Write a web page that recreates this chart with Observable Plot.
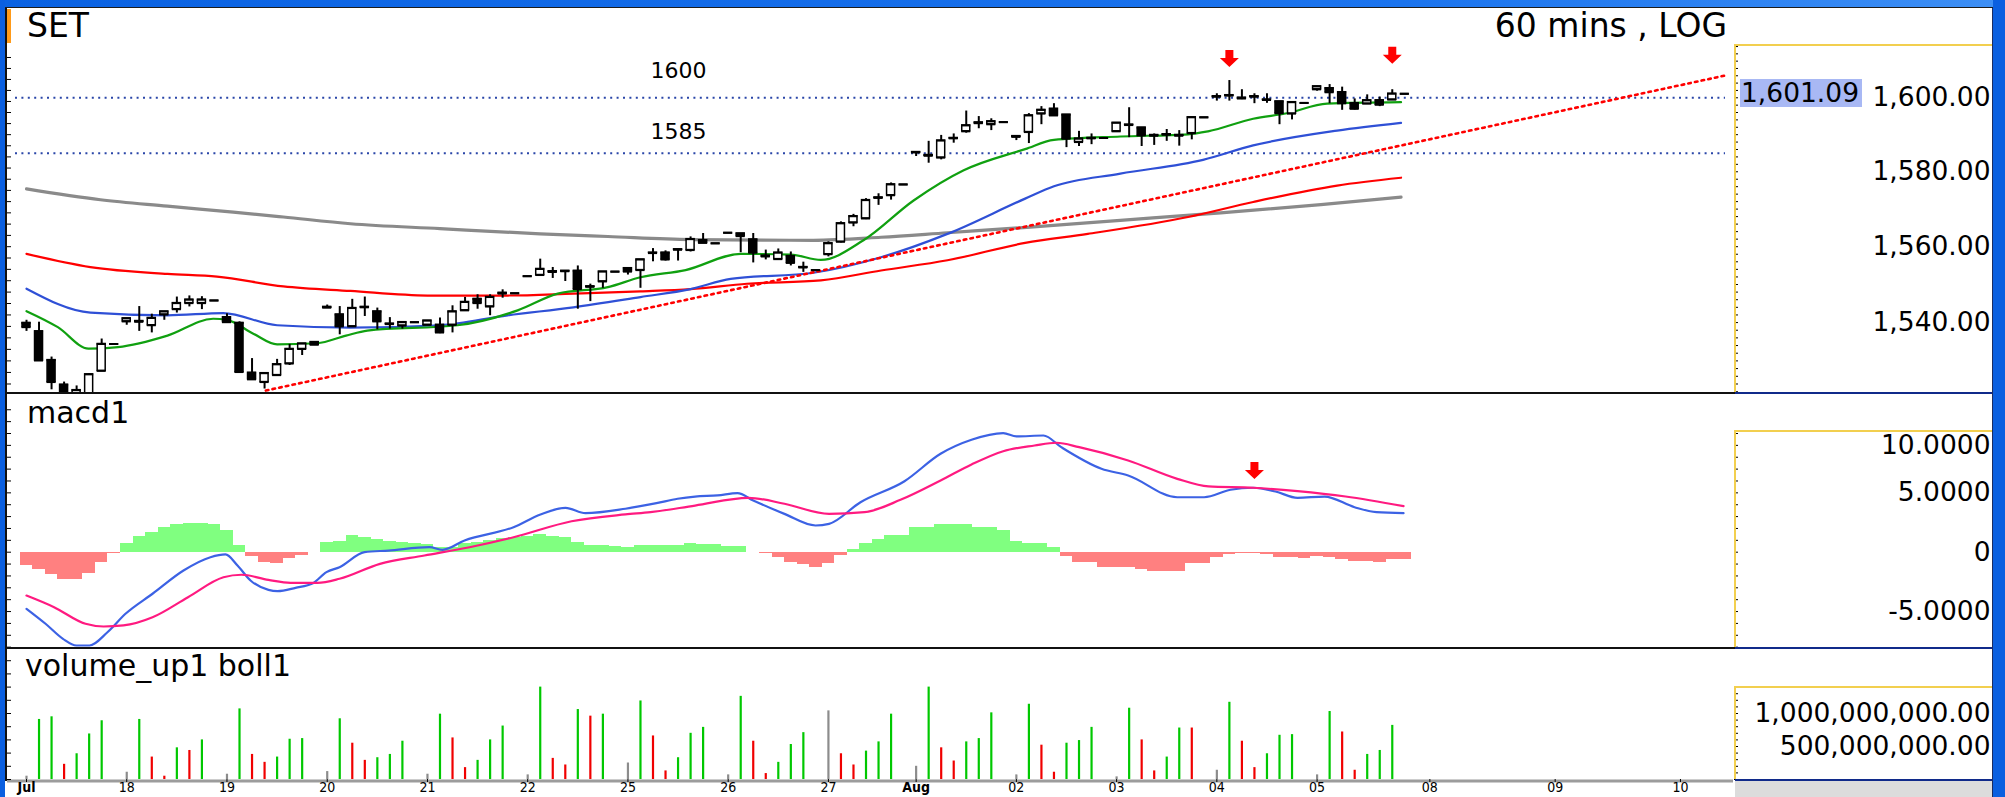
<!DOCTYPE html>
<html>
<head>
<meta charset="utf-8">
<script src="https://cdn.jsdelivr.net/npm/d3@7"></script>
<script src="https://cdn.jsdelivr.net/npm/@observablehq/plot@0.6"></script>
<style>
html,body{margin:0;padding:0;background:#fff;}
#frame{position:relative;width:2005px;height:797px;overflow:hidden;background:#fff;font-family:"DejaVu Sans",sans-serif;}
.a{position:absolute;}
.t{position:absolute;white-space:nowrap;line-height:1;color:#000;font-family:"DejaVu Sans",sans-serif;}
</style>
</head>
<body>
<div id="frame"></div>
<script>
// ---------------- DATA ----------------
// x positions are bar slots (8 hourly bars per trading day, Jul 27 has 7)
const dayLabels = ["Jul","18","19","20","21","22","25","26","27","Aug","02","03","04","05","08","09","10"];
const daySlots  = [0,8,16,24,32,40,48,56,64,71,79,87,95,103,112,122,132];
const monthLabels = ["Jul","Aug"];

const candleOpen = [
1539.9,1537.7,1530.2,1523.8,1521.5,1521.3,1527.4,1534.4,
1540.3,1540.4,1539.3,1542.1,1543.5,1545.1,1545.1,1545.8,
1541.4,1539.9,1526.9,1524.5,1526.3,1529.3,1533.1,1534.9,
1543.9,1542.1,1539.0,1544.1,1542.9,1539.7,1539.2,1540.1,
1539.4,1539.4,1539.4,1543.2,1546.2,1544.2,1547.6,1547.7,
1552.2,1552.5,1553.5,1553.6,1553.6,1549.4,1550.8,1553.4,
1554.3,1553.8,1558.3,1558.4,1559.2,1559.1,1561.7,1560.9,
1563.7,1563.5,1561.9,1557.6,1556.7,1557.5,1554.6,1553.8,
1558.0,1561.3,1566.4,1567.5,1573.0,1573.7,1576.6,
1585.2,1584.5,1583.8,1589.0,1590.9,1593.3,1592.8,1593.4,
1589.4,1590.7,1595.7,1597.0,1595.4,1588.0,1589.0,1589.1,
1590.9,1592.7,1591.9,1589.9,1590.1,1589.9,1590.4,1594.7,
1600.4,1600.7,1600.0,1600.4,1599.5,1599.0,1595.7,1598.6,
1602.3,1602.6,1601.5,1598.5,1598.4,1599.3,1599.5,1601.09];
const candleHigh = [
1540.6,1540.1,1531.0,1524.5,1523.5,1526.7,1535.7,1534.4,
1541.1,1544.2,1542.2,1542.9,1546.7,1547.0,1546.8,1545.8,
1542.3,1540.2,1530.6,1526.8,1530.4,1534.3,1534.5,1534.9,
1544.6,1544.2,1546.1,1546.7,1543.8,1541.3,1540.1,1540.1,
1540.5,1541.2,1544.4,1546.6,1547.3,1547.3,1548.6,1547.7,
1552.2,1556.7,1554.5,1553.6,1554.9,1550.1,1553.4,1553.4,
1554.3,1556.6,1559.5,1558.9,1559.3,1562.6,1563.5,1560.9,
1563.7,1563.5,1563.5,1559.1,1559.4,1558.6,1555.9,1553.8,
1561.3,1566.6,1568.6,1572.8,1574.1,1577.0,1576.6,
1585.3,1588.2,1589.8,1590.2,1596.4,1594.9,1594.3,1593.4,
1589.6,1595.7,1597.6,1598.4,1595.4,1590.9,1590.2,1589.1,
1593.2,1597.3,1591.9,1590.2,1591.4,1591.1,1594.7,1594.7,
1601.1,1604.7,1602.2,1601.1,1601.1,1599.0,1598.8,1598.6,
1603.1,1603.6,1602.9,1599.7,1600.8,1600.2,1602.2,1601.09];
const candleLow = [
1537.7,1529.9,1522.5,1520.5,1521.0,1521.0,1527.4,1534.4,
1539.3,1537.7,1537.3,1540.6,1542.5,1544.1,1543.4,1545.8,
1540.1,1527.0,1525.0,1522.7,1526.3,1528.8,1531.4,1534.2,
1543.9,1536.8,1539.0,1541.6,1538.1,1538.3,1538.3,1540.1,
1539.4,1537.1,1537.3,1543.2,1543.5,1541.8,1546.4,1547.7,
1552.2,1552.5,1551.6,1550.8,1543.5,1545.5,1549.0,1553.4,
1552.5,1549.0,1556.0,1556.2,1556.2,1558.6,1561.0,1560.9,
1563.7,1558.4,1555.7,1556.5,1556.7,1554.9,1553.2,1553.8,
1557.3,1561.0,1565.3,1567.2,1571.0,1572.4,1576.6,
1584.1,1582.3,1583.2,1587.7,1590.4,1591.6,1591.1,1593.4,
1588.4,1587.6,1592.7,1595.2,1586.5,1586.8,1587.3,1589.1,
1590.9,1589.2,1586.8,1587.1,1588.2,1586.9,1588.6,1594.7,
1599.1,1599.1,1599.5,1598.4,1598.5,1592.7,1594.0,1598.6,
1601.8,1598.4,1596.6,1596.7,1598.4,1597.6,1599.5,1601.09];
const candleClose = [
1538.8,1530.1,1524.5,1521.2,1522.4,1526.5,1534.4,1534.4,
1541.1,1540.2,1541.2,1542.9,1545.1,1546.0,1546.0,1545.8,
1540.1,1527.1,1525.2,1526.8,1529.1,1533.1,1534.5,1534.2,
1544.1,1539.0,1543.8,1544.0,1540.3,1539.6,1540.1,1540.1,
1540.5,1537.4,1542.9,1545.4,1545.1,1546.7,1547.8,1547.7,
1552.2,1554.1,1553.3,1553.5,1548.8,1549.5,1553.4,1553.4,
1553.4,1556.6,1558.4,1556.6,1559.3,1562.0,1561.0,1560.9,
1563.7,1562.8,1558.4,1557.4,1558.4,1555.7,1554.5,1553.8,
1560.9,1566.2,1568.1,1572.4,1573.1,1576.6,1576.6,
1585.3,1584.3,1588.4,1589.1,1592.5,1593.1,1593.6,1593.4,
1589.6,1595.2,1596.7,1595.2,1588.9,1588.9,1589.1,1589.1,
1593.2,1592.6,1589.8,1589.7,1590.0,1589.7,1594.7,1594.7,
1600.3,1600.6,1599.8,1600.3,1599.4,1595.8,1598.8,1598.6,
1603.1,1601.5,1598.5,1597.0,1599.3,1598.1,1601.1,1601.09];

// moving averages: [slot, value]
const maGreen = [[0,1543.0],[2.5,1538.8],[4.95,1533.2],[7.3,1533.6],[11.25,1536.6],[14.9,1541.0],[16,1540.7],[18.1,1537.1],[20,1534.3],[23.2,1534.6],[25.5,1536.6],[27.2,1537.9],[34.4,1539.3],[39.2,1543.2],[42.4,1547.6],[46.4,1549.3],[49,1551.9],[52.6,1553.8],[57,1558.1],[61,1557.9],[63.4,1556.5],[66.8,1561.7],[70.8,1572.3],[74.8,1580.4],[79.7,1586.1],[82,1588.6],[87.3,1589.5],[92.7,1590.1],[94.3,1590.9],[97.9,1594.3],[100.6,1595.8],[103.8,1598.4],[109.7,1598.8]];
const maBlue = [[0,1548.9],[5.1,1542.6],[11.25,1541.9],[15.7,1542.5],[20,1539.3],[25.86,1538.7],[33,1539.3],[38.4,1541.9],[43.65,1544.0],[49,1546.7],[53,1548.8],[56.2,1551.5],[62.8,1553.1],[68.2,1557.2],[73.5,1563.4],[79.7,1572.8],[82,1576.1],[87.3,1579.5],[93.9,1583.2],[97.9,1587.1],[104.6,1591.1],[109.7,1593.2]];
const maRed = [[0,1558.1],[5.1,1554.6],[11.25,1552.8],[15.2,1552.1],[20.5,1549.5],[25.86,1548.3],[32,1547.1],[38.4,1547.1],[43.65,1547.6],[49,1548.2],[53,1548.8],[57.5,1550.2],[63.4,1551.1],[68.2,1553.7],[73.5,1556.4],[79.7,1561.0],[84.7,1563.4],[92.7,1567.9],[97.9,1571.9],[104.6,1576.3],[109.7,1578.4]];
const maGray = [[0,1575.4],[5.9,1572.5],[11.25,1570.8],[16.5,1569.2],[20.5,1567.9],[25.86,1566.1],[33,1564.8],[41,1563.4],[46.4,1562.7],[53,1561.9],[62.8,1561.7],[68.2,1562.5],[73.5,1563.7],[80.1,1565.2],[87.3,1567.0],[95.3,1569.0],[103.3,1571.2],[109.7,1573.2]];

const trendSlots = [19.1, 135.6];
const trendValues = [1522.3, 1606.1];
const levelValues = [1600, 1585];
const levelLabels = ["1600", "1585"];
const priceArrowSlots = [96, 109];
const priceArrowValues = [1610.6, 1611.5];
const priceTicks = [1540, 1560, 1580, 1600];

// MACD
const macdLine = [[0,-4.77],[1.52,-6.03],[2.91,-7.3],[3.99,-7.86],[5.03,-7.86],[6.46,-6.74],[7.9,-5.19],[10.06,-3.5],[12.53,-1.54],[14.68,-0.42],[15.88,-0.19],[16.84,-1.12],[17.88,-2.38],[19.31,-3.17],[20.03,-3.28],[21.47,-3.0],[22.86,-2.61],[23.94,-1.68],[24.98,-1.26],[26.98,0],[28.89,0.14],[32.16,0.42],[33.2,0.2],[34.96,0.99],[38.87,2.11],[41.02,3.18],[43.02,3.74],[44.61,3.29],[47.8,3.66],[50.28,4.13],[51.96,4.5],[53.36,4.69],[55.15,4.78],[56.74,4.97],[58,4.36],[60.49,3.23],[62.97,2.25],[64.05,2.39],[66.56,4.21],[70.07,5.98],[72.95,8.29],[75.42,9.47],[77.95,10.03],[79.01,9.75],[81.16,9.83],[82.58,8.85],[85.79,7.03],[87.92,6.46],[91.84,4.63],[93.98,4.63],[96.09,5.26],[97.9,5.43],[99.68,5.11],[101.44,4.58],[103.59,4.69],[105.99,3.79],[107.74,3.37],[109.9,3.29]];
const signalLine = [[0,-3.65],[2.2,-4.63],[4.71,-6.03],[6.15,-6.26],[7.74,-6.17],[10.06,-5.48],[12.89,-3.79],[15.72,-2.11],[17.16,-1.9],[19.31,-2.33],[21.07,-2.58],[23.22,-2.58],[24.98,-2.24],[28.21,-0.98],[31.76,-0.28],[35.36,0.42],[38.87,1.26],[43.5,2.61],[47.8,3.18],[49.8,3.37],[53.36,3.93],[57.62,4.58],[60.49,4.08],[64.05,3.23],[66.88,3.37],[69.75,4.41],[72.95,6.04],[75.42,7.39],[77.95,8.51],[80.45,8.99],[82.2,9.22],[84.01,8.85],[87.92,7.73],[91.84,6.18],[94.33,5.54],[97.9,5.43],[101.44,5.14],[105.27,4.69],[109.9,3.88]];
const macdHist = [
-1.12,-1.46,-1.88,-2.33,-2.27,-1.82,-0.84,-0.14,
0.76,1.35,1.69,2.11,2.33,2.44,2.44,2.31,
1.83,0.56,-0.34,-0.84,-0.93,-0.56,-0.28,null,
0.79,0.93,1.41,1.27,1.07,0.93,0.82,0.71,
0.65,0.42,0.42,0.71,0.84,0.98,1.13,1.27,
1.35,1.49,1.35,1.27,0.79,0.56,0.56,0.51,
0.42,0.56,0.6,0.56,0.6,0.71,0.65,0.65,
0.51,0.51,null,-0.14,-0.42,-0.84,-1.04,-1.26,
-0.93,-0.28,0.2,0.76,1.07,1.41,1.41,
2.05,2.05,2.31,2.31,2.31,2.05,2.05,1.83,
0.93,0.76,0.76,0.42,-0.34,-0.84,-0.84,-1.32,
-1.32,-1.32,-1.48,-1.6,-1.6,-1.6,-0.98,-0.98,
-0.47,-0.19,-0.08,-0.08,-0.19,-0.47,-0.47,-0.5,
-0.34,-0.42,-0.6,-0.76,-0.76,-0.84,-0.62,-0.62];
const macdArrowSlots = [98];
const macdArrowValues = [6.84];
const macdTicks = [-5, 0, 5];
const macdTopTick = [10];

// Volume (millions), direction: n = neutral, g = up, r = down, - = none
const volumeMillions = [
50,910,950,230,390,690,890,null,
110,910,340,50,480,440,600,null,
80,1070,380,260,340,610,620,null,
120,920,550,290,330,380,580,null,
80,990,630,180,290,600,810,null,
70,1400,320,220,1060,960,990,null,
250,1190,660,130,330,700,790,null,
70,1260,580,90,260,530,710,null,
1040,390,220,430,570,990,null,
200,1400,480,280,570,620,1010,null,
70,1140,520,110,550,590,790,null,
40,1080,600,130,340,780,780,null,
140,1170,580,180,390,670,680,null,
70,1030,720,140,380,440,820,null];
const volumeDir = ("nggrggg-ngrrgrg-ngrrggg-ngrrggg-ngrrggg-ngrrgrg-ngrrggg-ngrrggg-" +
                   "nrrggg-ngrrggg-ngrrggg-ngrrggr-ngrrggg-ngrrggg-").split("");
const volumeTicks = [500e6, 1000e6];

// ---------------- BUILD ----------------
const frame = document.getElementById("frame");
const W = 2005, ML = 7, MR = 272;
const xDomain = [-1.5164, 136.233];
const FONT = "DejaVu Sans, sans-serif";
const NARROW = "Liberation Sans Narrow, DejaVu Sans Condensed, sans-serif";

const candles = candleOpen.map((o, i) => ({i, open: o, high: candleHigh[i], low: candleLow[i], close: candleClose[i]}));
const hist = macdHist.map((v, i) => ({i, v})).filter(d => d.v != null && d.v !== 0);
const vols = volumeMillions.map((v, i) => ({i, v: v == null ? null : v * 1e6, c: volumeDir[i]})).filter(d => d.v != null);
const volColor = {n: "#8c8c8c", g: "#00c800", r: "#f00000"};
const lastClose = candleClose[candleClose.length - 1];

const downArrow = {
  draw(ctx, size) {
    const s = Math.sqrt(size / Math.PI) / 8;
    ctx.moveTo(-4 * s, -9 * s);
    ctx.lineTo(4 * s, -9 * s);
    ctx.lineTo(4 * s, -1 * s);
    ctx.lineTo(9.5 * s, -1 * s);
    ctx.lineTo(0, 8 * s);
    ctx.lineTo(-9.5 * s, -1 * s);
    ctx.lineTo(-4 * s, -1 * s);
    ctx.closePath();
  }
};

const baseStyle = {background: "transparent", fontFamily: FONT, fontSize: "26px", color: "#000", overflow: "visible"};
const rightLabelOpts = {anchor: "right", tickSize: 0, tickPadding: 0, textAnchor: "end", dx: 257, fontSize: 26.5, fontFamily: FONT, label: null, fill: "#000"};
const PW = W - ML - MR;

// Price panel
const pricePlot = Plot.plot({
  width: W, height: 393, marginLeft: ML, marginRight: MR, marginTop: 45, marginBottom: 0,
  x: {domain: xDomain, axis: null},
  y: {type: "log", domain: [1521.54, 1614.29], axis: null},
  color: {type: "identity"},
  style: baseStyle,
  marks: [
    Plot.ruleY(levelValues, {y: d => d, stroke: "#2a46a8", strokeWidth: 2, strokeDasharray: "2 4.4", insetLeft: 8, insetRight: 8}),
    Plot.text([levelValues[0]], {y: d => d, text: () => levelLabels[0], frameAnchor: "left", dx: 643, dy: -27, textAnchor: "start", fontSize: 22, fontFamily: FONT, fill: "#000"}),
    Plot.text([levelValues[1]], {y: d => d, text: () => levelLabels[1], frameAnchor: "left", dx: 643, dy: -21, textAnchor: "start", fontSize: 22, fontFamily: FONT, fill: "#000"}),
    Plot.line(maGray, {x: d => d[0], y: d => d[1], stroke: "#8a8a8a", strokeWidth: 3.2, curve: "monotone-x", clip: true}),
    Plot.line(maRed, {x: d => d[0], y: d => d[1], stroke: "#ff0000", strokeWidth: 2.2, curve: "monotone-x", clip: true}),
    Plot.line(maBlue, {x: d => d[0], y: d => d[1], stroke: "#2f50d6", strokeWidth: 2.2, curve: "monotone-x", clip: true}),
    Plot.line(maGreen, {x: d => d[0], y: d => d[1], stroke: "#10a010", strokeWidth: 2.2, curve: "monotone-x", clip: true}),
    Plot.line(trendSlots.map((s, k) => [s, trendValues[k]]), {x: d => d[0], y: d => d[1], stroke: "#ff0000", strokeWidth: 2.6, strokeDasharray: "2.6 4.2", clip: true}),
    Plot.ruleX(candles, {x: "i", y1: "low", y2: "high", stroke: "#000", strokeWidth: 2, clip: true}),
    Plot.rect(candles, {x1: d => d.i - 0.32, x2: d => d.i + 0.32, y1: "open", y2: "close",
      fill: d => d.close > d.open ? "#ffffff" : "#000000", stroke: "#000", strokeWidth: 1.5, clip: true}),
    Plot.ruleY(candles, {y: "open", x1: d => d.i - 0.36, x2: d => d.i + 0.36, stroke: "#000", strokeWidth: 2, clip: true}),
    Plot.ruleY(candles, {y: "close", x1: d => d.i - 0.36, x2: d => d.i + 0.36, stroke: "#000", strokeWidth: 2, clip: true}),
    Plot.dot(priceArrowSlots.map((s, k) => [s, priceArrowValues[k]]), {x: d => d[0], y: d => d[1], symbol: downArrow, r: 8, fill: "#ff0000", stroke: null}),
    Plot.axisY({...rightLabelOpts, ticks: priceTicks, tickFormat: d3.format(",.2f")}),
    Plot.axisY({anchor: "right", ticks: d3.range(1522, 1615, 2), tickSize: 4, tickFormat: () => "", label: null}),
    Plot.tickY(d3.range(1524, 1614, 3), {y: d => d, insetRight: PW - 4, stroke: "#000"})
  ]
});

// MACD panel
const macdPlot = Plot.plot({
  width: W, height: 255, marginLeft: ML, marginRight: MR, marginTop: 0, marginBottom: 0,
  x: {domain: xDomain, axis: null},
  y: {domain: [-8.113, 13.370], axis: null},
  color: {type: "identity"},
  style: baseStyle,
  marks: [
    Plot.rect(hist, {x1: d => d.i - 0.5, x2: d => d.i + 0.5, y1: () => 0, y2: "v",
      fill: d => d.v > 0 ? "#80ff80" : "#ff8080", shapeRendering: "crispEdges"}),
    Plot.line(macdLine, {x: d => d[0], y: d => d[1], stroke: "#3c62e4", strokeWidth: 2.2, curve: "monotone-x"}),
    Plot.line(signalLine, {x: d => d[0], y: d => d[1], stroke: "#ff1a80", strokeWidth: 2.2, curve: "monotone-x"}),
    Plot.dot(macdArrowSlots.map((s, k) => [s, macdArrowValues[k]]), {x: d => d[0], y: d => d[1], symbol: downArrow, r: 8, fill: "#ff0000", stroke: null}),
    Plot.axisY({...rightLabelOpts, ticks: macdTicks, tickFormat: d => d === 0 ? "0" : d.toFixed(4)}),
    Plot.axisY({...rightLabelOpts, ticks: macdTopTick, dy: 12, tickFormat: d => d.toFixed(4)}),
    Plot.axisY({anchor: "right", ticks: d3.range(-8, 10.5, 1), tickSize: 4, tickFormat: () => "", label: null}),
    Plot.tickY(d3.range(-8, 13, 1), {y: d => d, insetRight: PW - 4, stroke: "#000"})
  ]
});

// Volume panel
const volPlot = Plot.plot({
  width: W, height: 149, marginLeft: ML, marginRight: MR, marginTop: 0, marginBottom: 18,
  x: {domain: xDomain},
  y: {domain: [0, 1.985e9], axis: null},
  color: {type: "identity"},
  style: baseStyle,
  marks: [
    Plot.ruleX(vols, {x: "i", y1: () => 0, y2: "v", stroke: d => volColor[d.c], strokeWidth: 2.2}),
    Plot.ruleY([0], {stroke: "#9c9c9c", strokeWidth: 3, dy: 1.5}),
    Plot.axisX({anchor: "bottom", ticks: daySlots.filter((s, k) => !monthLabels.includes(dayLabels[k])),
      tickFormat: s => dayLabels[daySlots.indexOf(s)], tickSize: 3, tickPadding: 0, fontSize: 14, fontFamily: NARROW, label: null, fill: "#000"}),
    Plot.axisX({anchor: "bottom", ticks: daySlots.filter((s, k) => monthLabels.includes(dayLabels[k])),
      tickFormat: s => dayLabels[daySlots.indexOf(s)], tickSize: 3, tickPadding: 0, fontSize: 14, fontWeight: "bold", fontFamily: NARROW, label: null, fill: "#000"}),
    Plot.axisY({...rightLabelOpts, ticks: volumeTicks, tickFormat: d3.format(",.2f")}),
    Plot.axisY({anchor: "right", ticks: d3.range(0, 1.41e9, 1e8), tickSize: 4, tickFormat: () => "", label: null}),
    Plot.tickY(d3.range(0, 1.99e9, 2e8), {y: d => d, insetRight: PW - 4, stroke: "#000"})
  ]
});

function box(l, t, w, h, css) {
  const d = document.createElement("div");
  d.className = "a";
  d.style.cssText = `left:${l}px;top:${t}px;width:${w}px;height:${h}px;` + (css || "");
  frame.appendChild(d);
  return d;
}
function txt(s, css) {
  const d = document.createElement("div");
  d.className = "t";
  d.textContent = s;
  d.style.cssText = css;
  frame.appendChild(d);
  return d;
}

// axis strip behind plots
box(1735, 781, 257, 16, "background:#dcdcdc;");

[[pricePlot, 0], [macdPlot, 393], [volPlot, 648]].forEach(([svg, top]) => {
  svg.style.position = "absolute";
  svg.style.left = "0px";
  svg.style.top = top + "px";
  frame.appendChild(svg);
});

// window chrome and panel borders
box(0, 0, 2005, 7, "background:linear-gradient(90deg,#0a62e2 0%,#1b74ee 70%,#3d8ff5 100%);");
box(0, 7, 2005, 1, "background:#1c1c1c;");
box(0, 0, 5, 797, "background:#0a5fe0;");
box(1993, 0, 12, 797, "background:#0a5fe0;");
box(1992, 8, 1, 789, "background:#1c2c60;");
box(5, 8, 2, 773, "background:#111;");
box(7, 9, 4, 34, "background:#ff9a18;");
// separators
box(5, 392, 1730, 2, "background:#111;");
box(1735, 392, 257, 2, "background:#102a8a;");
box(5, 647, 1730, 2, "background:#111;");
box(1735, 647, 257, 2, "background:#102a8a;");
box(1735, 779, 257, 2, "background:#102a8a;");
// yellow axis boxes
const Y = "#f2cf4f";
box(1735, 44, 257, 1.5, `background:${Y};`);
box(1734, 44, 1.5, 348, `background:${Y};`);
box(1735, 430, 257, 1.5, `background:${Y};`);
box(1734, 430, 1.5, 217, `background:${Y};`);
box(1735, 686, 257, 1.5, `background:${Y};`);
box(1734, 686, 1.5, 93, `background:${Y};`);

// titles
txt("SET", "left:27px;top:9px;font-size:33px;");
txt("60 mins , LOG", "right:278px;top:9px;font-size:33px;");
txt("macd1", "left:27px;top:398px;font-size:30px;");
txt("volume_up1 boll1", "left:25px;top:651px;font-size:30px;");

// last price tag, positioned with the price scale
const yLast = pricePlot.scale("y").apply(lastClose);
txt(d3.format(",.2f")(lastClose),
  `left:1740px;top:${yLast - 14}px;height:28px;width:122px;font-size:26.5px;line-height:28px;background:#a8b8f4;padding-left:1px;box-sizing:border-box;`);
</script>
</body>
</html>
